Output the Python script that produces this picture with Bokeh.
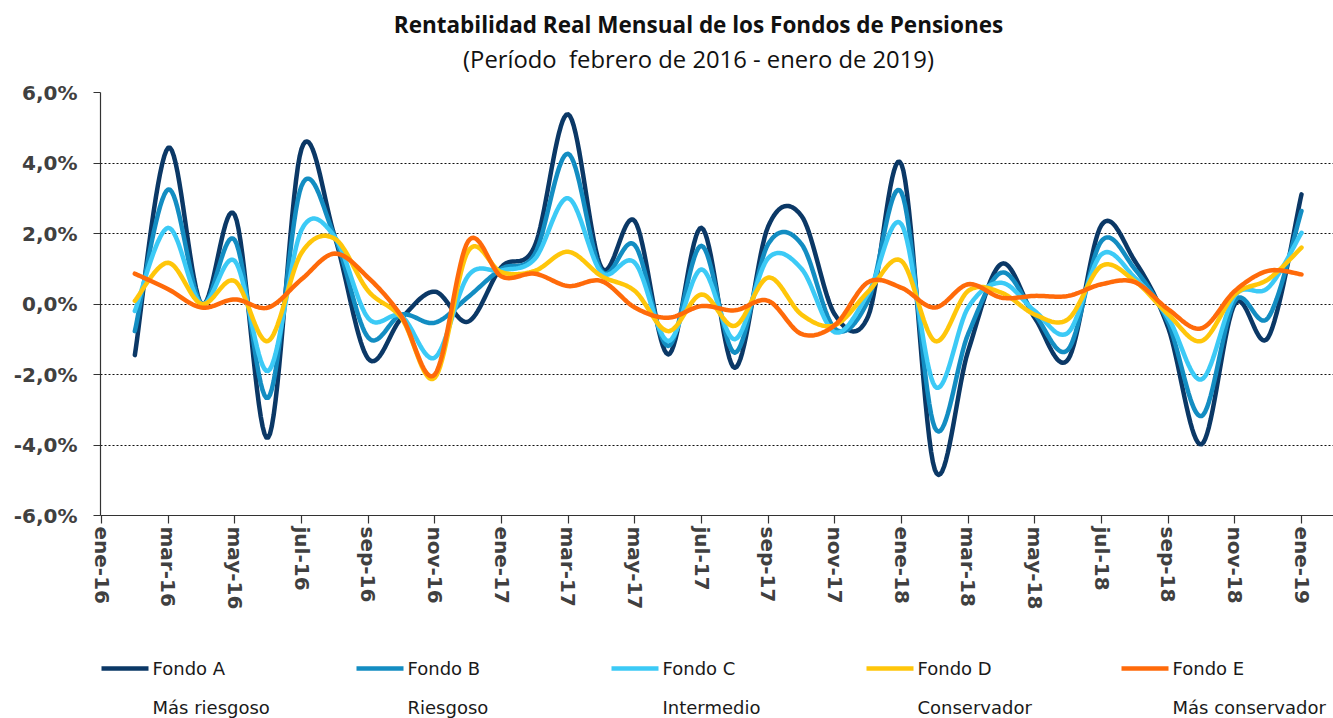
import numpy as np
from bokeh.plotting import figure
from bokeh.layouts import column
from bokeh.models import FixedTicker, Range1d
from bokeh.core.properties import value
from bokeh.embed import file_html
from bokeh.resources import INLINE

# ---------------- data ----------------
months = ["feb-16", "mar-16", "abr-16", "may-16", "jun-16", "jul-16", "ago-16", "sep-16",
          "oct-16", "nov-16", "dic-16", "ene-17", "feb-17", "mar-17", "abr-17", "may-17",
          "jun-17", "jul-17", "ago-17", "sep-17", "oct-17", "nov-17", "dic-17", "ene-18",
          "feb-18", "mar-18", "abr-18", "may-18", "jun-18", "jul-18", "ago-18", "sep-18",
          "oct-18", "nov-18", "dic-18", "ene-19"]

fondo_a = [-1.45, 4.43, 0.0, 2.52, -3.79, 4.40, 1.90, -1.55, -0.40, 0.35, -0.50, 1.05,
           1.65, 5.38, 1.03, 2.35, -1.43, 2.16, -1.81, 2.20, 2.50, -0.30, -0.35, 3.96,
           -4.70, -1.33, 1.14, -0.40, -1.57, 2.24, 1.22, -0.67, -3.98, 0.00, -0.95, 3.11]
fondo_b = [-0.77, 3.25, 0.0, 1.81, -2.66, 3.35, 1.90, -0.95, -0.30, -0.53, 0.20, 1.00,
           1.42, 4.26, 0.94, 1.67, -1.19, 1.65, -1.38, 1.70, 1.70, -0.70, 0.10, 3.16,
           -3.51, -0.85, 0.89, -0.30, -1.29, 1.79, 0.99, -0.53, -3.18, 0.09, -0.39, 2.64]
fondo_c = [-0.20, 2.16, 0.0, 1.22, -1.90, 2.10, 1.90, -0.40, -0.35, -1.52, 0.80, 0.95,
           1.28, 3.00, 0.89, 1.17, -1.05, 0.98, -1.00, 1.30, 1.00, -0.80, 0.30, 2.26,
           -2.33, -0.10, 0.60, -0.20, -0.81, 1.41, 0.75, -0.39, -2.14, 0.23, 0.46, 2.02]
fondo_d = [0.09, 1.17, 0.0, 0.65, -1.05, 1.45, 1.85, 0.37, -0.40, -2.09, 1.50, 0.90,
           0.94, 1.48, 0.79, 0.37, -0.77, 0.27, -0.62, 0.75, -0.30, -0.60, 0.35, 1.22,
           -1.05, 0.37, 0.32, -0.30, -0.43, 1.08, 0.65, -0.29, -1.05, 0.27, 0.70, 1.60]
fondo_e = [0.86, 0.42, -0.10, 0.13, -0.10, 0.70, 1.43, 0.75, -0.35, -2.00, 1.78, 0.78,
           0.86, 0.51, 0.65, -0.10, -0.39, -0.06, -0.18, 0.09, -0.85, -0.60, 0.62, 0.46,
           -0.10, 0.56, 0.18, 0.23, 0.23, 0.56, 0.62, -0.15, -0.69, 0.37, 0.94, 0.84]

series_names = ["Fondo A", "Fondo B", "Fondo C", "Fondo D", "Fondo E"]
series_desc = ["Más riesgoso", "Riesgoso", "Intermedio", "Conservador", "Más conservador"]
series_colors = ["#0b3866", "#138dc2", "#3ccaf6", "#ffc60a", "#ff6a0a"]

x_tick_labels = ["ene-16", "mar-16", "may-16", "jul-16", "sep-16", "nov-16",
                 "ene-17", "mar-17", "may-17", "jul-17", "sep-17", "nov-17",
                 "ene-18", "mar-18", "may-18", "jul-18", "sep-18", "nov-18", "ene-19"]
y_ticks = [-6, -4, -2, 0, 2, 4, 6]
y_tick_labels = ["-6,0%", "-4,0%", "-2,0%", "0,0%", "2,0%", "4,0%", "6,0%"]

title_1 = "Rentabilidad Real Mensual de los Fondos de Pensiones"
title_2 = "(Período\u00a0 febrero de 2016 - enero de 2019)"


# ---------------- helpers ----------------
def smooth(xs, ys, n=18):
    P = np.column_stack([xs, ys]).astype(float)
    E = np.vstack([P[0], P, P[-1]])
    ox, oy = [], []
    for i in range(len(P) - 1):
        p0, p1, p2, p3 = E[i], E[i + 1], E[i + 2], E[i + 3]
        c1 = p1 + (p2 - p0) / 6.0
        c2 = p2 - (p3 - p1) / 6.0
        t = np.linspace(0, 1, n, endpoint=(i == len(P) - 2))[:, None]
        b = ((1 - t) ** 3) * p1 + 3 * ((1 - t) ** 2) * t * c1 + 3 * (1 - t) * t ** 2 * c2 + t ** 3 * p2
        ox.extend(b[:, 0])
        oy.extend(b[:, 1])
    return ox, oy


def blank(fig):
    fig.outline_line_color = None
    fig.axis.visible = False
    fig.grid.visible = False
    fig.background_fill_color = "white"
    fig.border_fill_color = "white"


W = 1333
LEFT = 100          # the column aligns every frame to the chart's frame (x = 100 .. W)
H_TOP, H_MAIN, H_LEG = 80, 560, 78

# ---------------- title strip ----------------
top = figure(width=W, height=H_TOP, output_backend="svg", toolbar_location=None,
             x_range=Range1d(LEFT, W), y_range=Range1d(H_TOP, 0),
             min_border_left=LEFT, min_border_right=0, min_border_top=0, min_border_bottom=0)
blank(top)
top.text(x=[698], y=[24], text=[title_1], text_align="center", text_baseline="middle",
         text_font=value("Open Sans"), text_font_style="bold", text_font_size="22.5px",
         text_color="#111111")
top.text(x=[698], y=[58], text=[title_2], text_align="center", text_baseline="middle",
         text_font=value("Open Sans"), text_font_size="23.8px", text_color="#111111")

# ---------------- main chart ----------------
p = figure(width=W, height=H_MAIN, output_backend="svg", toolbar_location=None,
           x_range=Range1d(-0.03, 36.96), y_range=Range1d(-6, 6),
           min_border_left=LEFT, min_border_right=0, min_border_top=12, min_border_bottom=125)
p.outline_line_color = None
p.background_fill_color = "white"
p.border_fill_color = "white"

x_idx = list(range(1, len(months) + 1))

p.xaxis.ticker = FixedTicker(ticks=list(range(0, 2 * len(x_tick_labels), 2)))
p.xaxis.major_label_overrides = {2 * i: lab for i, lab in enumerate(x_tick_labels)}
p.xaxis.major_label_orientation = "vertical"
p.yaxis.ticker = FixedTicker(ticks=y_ticks)
p.yaxis.major_label_overrides = {t: lab for t, lab in zip(y_ticks, y_tick_labels)}

for ax in (p.xaxis, p.yaxis):
    ax.axis_line_color = "#333333"
    ax.axis_line_width = 1.2
    ax.major_tick_line_color = "#333333"
    ax.major_tick_line_width = 1.2
    ax.major_tick_in = 0
    ax.minor_tick_line_color = None
    ax.major_label_text_font = "DejaVu Sans"
    ax.major_label_text_font_style = "bold"
    ax.major_label_text_font_size = "20px"
    ax.major_label_text_color = "#404040"
p.xaxis.major_tick_out = 8
p.xaxis.major_label_standoff = 3
p.yaxis.major_tick_out = 7
p.yaxis.major_label_standoff = 16

p.xgrid.grid_line_color = None
p.ygrid.ticker = FixedTicker(ticks=[-4, -2, 0, 2, 4, 6])
p.ygrid.grid_line_color = "#111111"
p.ygrid.grid_line_dash = "2 2"
p.ygrid.grid_line_width = 1

for vals, col in zip([fondo_a, fondo_b, fondo_c, fondo_d, fondo_e], series_colors):
    sx, sy = smooth(x_idx, vals)
    p.line(sx, sy, line_color=col, line_width=4.5, line_cap="round", line_join="round")

# ---------------- legend strip ----------------
leg = figure(width=W, height=H_LEG, output_backend="svg", toolbar_location=None,
             x_range=Range1d(LEFT, W), y_range=Range1d(H_LEG, 0),
             min_border_left=LEFT, min_border_right=0, min_border_top=0, min_border_bottom=0)
blank(leg)
pitch = 255
k = list(range(len(series_names)))
leg.segment(x0=[101 + pitch * i for i in k], x1=[148 + pitch * i for i in k],
            y0=[28] * len(k), y1=[28] * len(k), line_color=series_colors, line_width=4.5)
leg.text(x=[152 + pitch * i for i in k], y=[28] * len(k), text=series_names,
         text_align="left", text_baseline="middle", text_font=value("DejaVu Sans"),
         text_font_size="18px", text_color="#1a1a1a")
leg.text(x=[152 + pitch * i for i in k], y=[67] * len(k), text=series_desc,
         text_align="left", text_baseline="middle", text_font=value("DejaVu Sans"),
         text_font_size="18px", text_color="#1a1a1a")

layout = column(top, p, leg, spacing=0)
open("out.html", "w").write(file_html(layout, INLINE))
